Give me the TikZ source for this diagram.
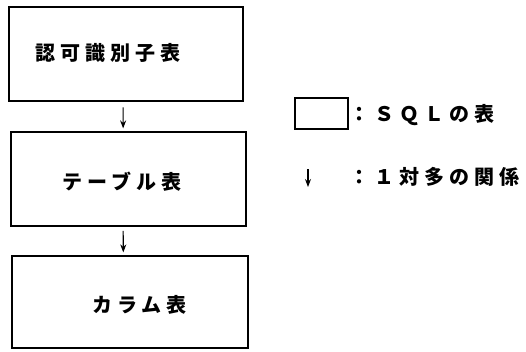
\documentclass[tikz,border=0pt]{standalone}
\usepackage{fontspec}
\usepackage{tikz}
\usetikzlibrary{arrows.meta}
\newfontfamily\jpfont[LetterSpace=25]{Noto Sans CJK JP}
\tikzset{every picture/.style={line width=0.75pt}}
\tikzset{
  tblbox/.style={draw, line width=1.4pt, inner sep=0pt},
  jplabel/.style={anchor=west, inner sep=0pt, font=\jpfont\bfseries\fontsize{15}{18}\selectfont},
  onemany/.style={line width=0.8pt, -{Stealth[length=6pt,width=4.5pt]}}
}

\begin{document}
\begin{tikzpicture}[x=0.75pt,y=0.75pt,yscale=-1,xscale=1]
\path[use as bounding box] (0,0) rectangle (526,351);

%Boxes
\node (auth) [tblbox, minimum width=176pt, minimum height=70.5pt] at (126,54) {};
\node (tbl) [tblbox, minimum width=176pt, minimum height=70.5pt] at (128.5,179) {};
\node (col) [tblbox, minimum width=177pt, minimum height=69pt] at (130,302) {};

% Text Node
\node (authtxt) [jplabel] at (35,53) {認可識別子表};
% Text Node
\node (tbltxt) [jplabel] at (62,182) {テーブル表};
% Text Node
\node (coltxt) [jplabel] at (92,305) {カラム表};

%Arrows
\draw [onemany, shorten <=4pt, shorten >=2pt] ([xshift=-2.2pt]auth.south) -- ([xshift=-4pt]tbl.north);
\draw [onemany, shorten <=3pt, shorten >=2pt] ([xshift=-4pt]tbl.south) -- ([xshift=-5pt]col.north);

%Legend
\node (keybox) [tblbox, minimum width=39.75pt, minimum height=23.25pt] at (321.5,113.5) {};
% Text Node
\node (keytxt) [jplabel] at (349,115) {：ＳＱＬの表};
\coordinate (keytop) at (308,169);
\coordinate (keybot) at (308,187);
\draw [onemany] (keytop) -- (keybot);
% Text Node
\node (reltxt) [jplabel] at (349,177) {：１対多の関係};

\end{tikzpicture}
\end{document}
